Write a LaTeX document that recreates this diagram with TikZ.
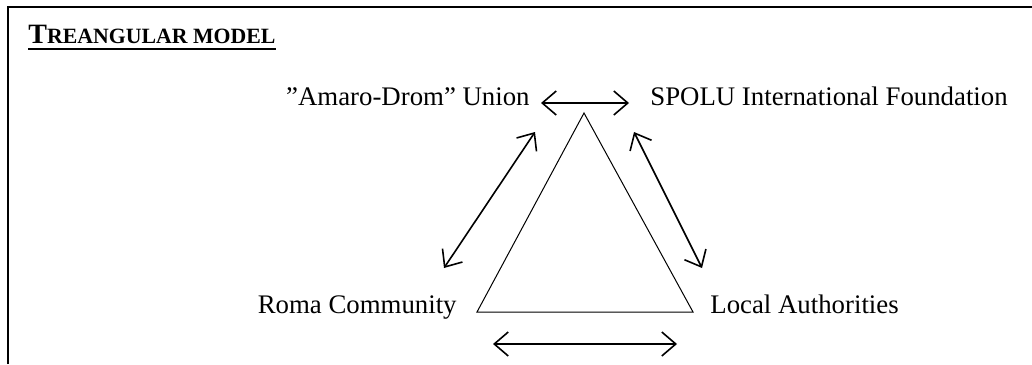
\documentclass[tikz,border=0pt]{standalone}
\usepackage{fontspec}
\setmainfont{Liberation Serif}
\usetikzlibrary{arrows.meta}

\tikzset{
	lbl/.style={inner sep=0pt, font=\fontsize{13.4}{16}\selectfont},
	link/.style={line width=0.8pt, {Straight Barb[length=7pt,width=12pt]}-{Straight Barb[length=7pt,width=12pt]}}
}

\begin{document}
\begin{tikzpicture}[x=0.5pt, y=-0.5pt]
	\useasboundingbox (0,0) rectangle (1032,364);
	\draw[line width=1.1pt] (8,364) -- (8,7) -- (1032,7);
	
	\node[inner sep=0pt, anchor=base west] (title) at (28,43) {\bfseries{\fontsize{14}{16}\selectfont T}{\fontsize{10.9}{12}\selectfont REANGULAR MODEL}};
	\draw[line width=1pt] (28,49) -- (title.base east |- 0,49);
	
	% triangle
	\coordinate (top) at (584,113);
	\coordinate (bl) at (477,312);
	\coordinate (br) at (693,312);
	\draw[line width=0.5pt] (top) -- (bl) -- (br) -- cycle;
	
	\node[lbl, anchor=base east] (amaro) at (530,105) {”Amaro-Drom" Union};
	\node[lbl, anchor=base west] (spolu) at (650,105) {SPOLU International Foundation};
	\node[lbl, anchor=base east] (roma) at (457,313) {Roma Community};
	\node[lbl, anchor=base west] (local) at (710,313) {Local Authorities};
	
	% arrows
	\coordinate (a1) at (541,103);
	\coordinate (a2) at (629,103);
	\coordinate (b1) at (444,268);
	\coordinate (b2) at (535,132);
	\coordinate (c1) at (634,132);
	\coordinate (c2) at (702,268);
	\coordinate (d1) at (493,344);
	\coordinate (d2) at (677,344);
	
	\draw[link] (a1) -- (a2);
	\draw[link] (b1) -- (b2);
	\draw[link] (c1) -- (c2);
	\draw[link] (d1) -- (d2);
	
\end{tikzpicture}
\end{document}
